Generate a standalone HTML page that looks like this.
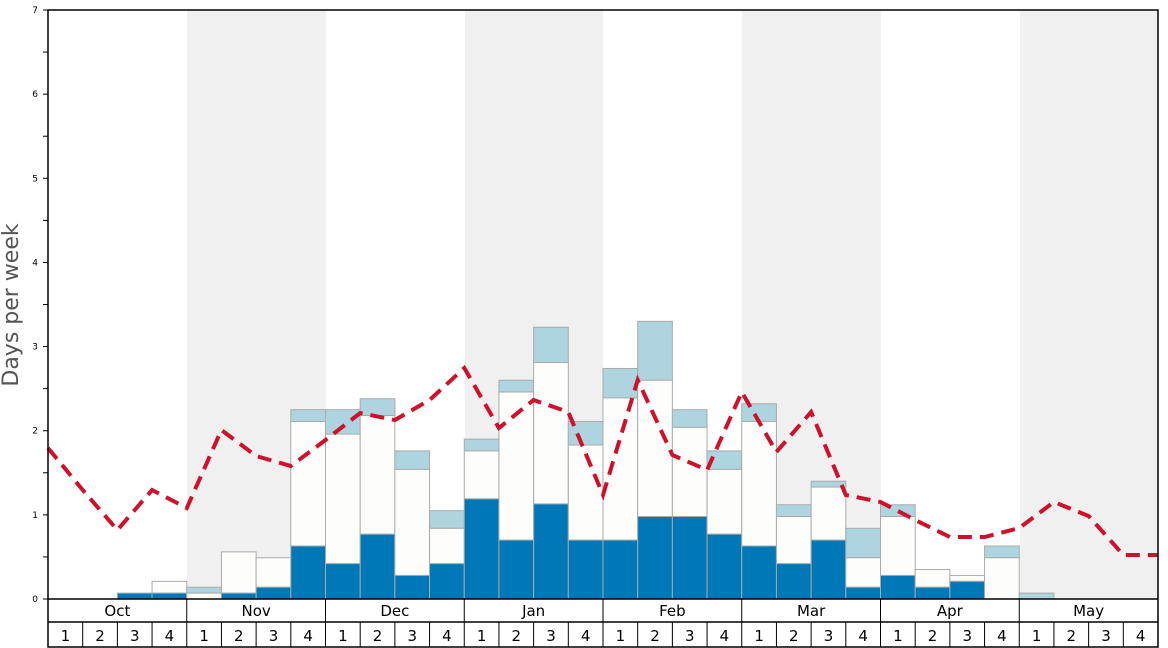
<!DOCTYPE html>
<html><head><meta charset="utf-8"><style>body{margin:0;background:#fff}svg{display:block}</style></head><body>
<svg width="1168" height="648" xmlns="http://www.w3.org/2000/svg" font-family="DejaVu Sans, Liberation Sans, sans-serif">
<rect width="1168" height="648" fill="#fff"/>
<g fill="#f0f0f0">
<rect x="187" y="10" width="139" height="589"/>
<rect x="465" y="10" width="138" height="589"/>
<rect x="742" y="10" width="139" height="589"/>
<rect x="1020" y="10" width="138" height="589"/>
</g>
<g id="bars" stroke="#aaa" stroke-width="1"></g>
<polyline id="line" fill="none" stroke="#d0102a" stroke-width="4" stroke-dasharray="14,8" points=""/>
<g stroke="#000" stroke-width="1.5" fill="none">
<rect x="48" y="10" width="1110" height="637"/>
<line x1="48" y1="599" x2="1158" y2="599"/>
<line x1="48" y1="622" x2="1158" y2="622"/>
</g>
<g id="axis" stroke="#000" stroke-width="1"></g>
<g id="labels" font-size="15" text-anchor="middle" fill="#000"></g>
<g id="ylab" font-size="9" text-anchor="end" fill="#000"></g>
<text x="12" y="305" font-size="22" fill="#555" text-anchor="middle" dominant-baseline="middle" transform="rotate(-90 12 305)">Days per week</text>
</svg>
<script>
var ns="http://www.w3.org/2000/svg";
function el(t,a,p){var e=document.createElementNS(ns,t);for(var k in a)e.setAttribute(k,a[k]);document.getElementById(p).appendChild(e);return e;}
var X0=48,W=1110/32,Y0=599,S=84.14;
function y(v){return Y0-v*S;}
var d=[[0,0,0],[0,0,0],[0.07,0.07,0.07],[0.07,0.21,0.21],
[0,0.07,0.14],[0.07,0.56,0.56],[0.14,0.49,0.49],[0.63,2.11,2.25],
[0.42,1.96,2.25],[0.77,2.18,2.38],[0.28,1.54,1.76],[0.42,0.84,1.05],
[1.19,1.76,1.90],[0.70,2.46,2.60],[1.13,2.81,3.23],[0.70,1.83,2.11],
[0.70,2.39,2.74],[0.98,2.60,3.30],[0.98,2.04,2.25],[0.77,1.54,1.76],
[0.63,2.11,2.32],[0.42,0.98,1.12],[0.70,1.33,1.40],[0.14,0.49,0.84],
[0.28,0.98,1.12],[0.14,0.35,0.35],[0.21,0.28,0.28],[0,0.49,0.63],
[0,0,0.07],[0,0,0],[0,0,0],[0,0,0]];
d.forEach(function(r,i){var x=X0+i*W;
 if(r[2]>r[1])el("rect",{x:x,y:y(r[2]),width:W,height:(r[2]-r[1])*S,fill:"#aed4e0"},"bars");
 if(r[1]>r[0])el("rect",{x:x,y:y(r[1]),width:W,height:(r[1]-r[0])*S,fill:"#fdfdfb"},"bars");
 if(r[0]>0)el("rect",{x:x,y:y(r[0]),width:W,height:r[0]*S,fill:"#0077b6"},"bars");
});
var ly=[448,490,530,490,508,430,456,466,440,413,420,400,368,428,400,412,495,380,455,470,392,452,412,495,502,520,537,537,528,502,516,555,555];
document.getElementById("line").setAttribute("points",ly.map(function(v,i){return (X0+i*W).toFixed(1)+","+v}).join(" "));
var m=["Oct","Nov","Dec","Jan","Feb","Mar","Apr","May"];
for(var i=0;i<32;i++){var x=X0+i*W;
 el("line",{x1:x,y1:(i%4==0?599:622),x2:x,y2:647},"axis");
 var t=el("text",{x:x+W/2,y:641},"labels");t.textContent=(i%4)+1;
}
m.forEach(function(n,j){var t=el("text",{x:X0+(j*4+2)*W,y:616},"labels");t.textContent=n;});
for(var k=0;k<=14;k++){var v=k/2,yy=y(v);
 el("line",{x1:43,y1:yy,x2:48,y2:yy},"axis");
 if(k%2==0){var t=el("text",{x:38,y:yy+3},"ylab");t.textContent=v;}
}
</script>
</body></html>
